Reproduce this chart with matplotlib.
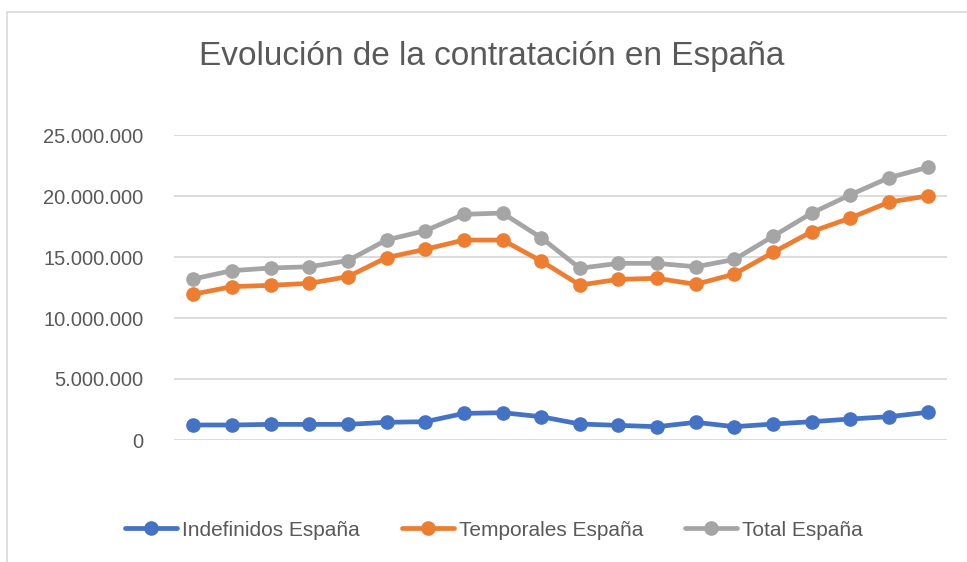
import matplotlib
matplotlib.use("Agg")
import matplotlib.pyplot as plt
from matplotlib.ticker import FuncFormatter
from matplotlib.patches import Rectangle

periods = list(range(1, 21))
indefinidos = [1.23, 1.23, 1.28, 1.28, 1.28, 1.45, 1.50, 2.18, 2.24, 1.91,
               1.31, 1.20, 1.09, 1.45, 1.09, 1.31, 1.50, 1.72, 1.91, 2.27]
temporales = [11.95, 12.57, 12.68, 12.84, 13.39, 14.95, 15.63, 16.39, 16.39, 14.67,
              12.70, 13.17, 13.25, 12.76, 13.60, 15.38, 17.08, 18.20, 19.50, 20.00]
total = [13.20, 13.88, 14.10, 14.20, 14.70, 16.40, 17.15, 18.50, 18.60, 16.58,
         14.08, 14.48, 14.48, 14.20, 14.80, 16.70, 18.60, 20.10, 21.50, 22.35]
series_names = ["Indefinidos España", "Temporales España", "Total España"]
yticks = [0, 5e6, 10e6, 15e6, 20e6, 25e6]
title = "Evolución de la contratación en España"

fig = plt.figure(figsize=(9.67, 5.62), dpi=100)
fig.patches.append(Rectangle((6.5 / 967, -0.2), 1.2, 1.2 - 11.5 / 562, transform=fig.transFigure,
                             fill=False, edgecolor="#D9D9D9", linewidth=1.2))
ax = fig.add_axes([174 / 967, 1 - 440 / 562, (947 - 174) / 967, (440 - 135) / 562])

colors = ["#4472C4", "#ED7D31", "#A5A5A5"]
x = list(range(len(periods)))
for vals, name, c in zip([indefinidos, temporales, total], series_names, colors):
    ax.plot(x, [v * 1e6 for v in vals], color=c, lw=3.4, marker="o", ms=9.5,
            label=name, solid_capstyle="round")

ax.set_xlim(-0.5, len(periods) - 0.5)
ax.set_ylim(0, 25e6)
ax.set_yticks(yticks)
ax.yaxis.set_major_formatter(FuncFormatter(lambda v, p: f"{int(v):,}".replace(",", ".")))
ax.set_xticks([])
ax.grid(axis="y", color="#D9D9D9", lw=1.3)
ax.set_axisbelow(True)
for s in ax.spines.values():
    s.set_visible(False)
ax.tick_params(axis="y", length=0, pad=22, labelsize=14.5, labelcolor="#595959")
for lab in ax.get_yticklabels():
    lab.set_family("Liberation Sans")

fig.text(492 / 967, 1 - 57 / 562, title, ha="center", va="center",
         fontsize=24, color="#595959", family="Liberation Sans")

leg = fig.legend(loc="center", bbox_to_anchor=(494 / 967, 1 - 530 / 562), ncol=3,
                 frameon=False, handlelength=2.5, columnspacing=2.0, handletextpad=0.25,
                 prop={"family": "Liberation Sans", "size": 15})
for t in leg.get_texts():
    t.set_color("#595959")

fig.savefig("out.png", dpi=100)
